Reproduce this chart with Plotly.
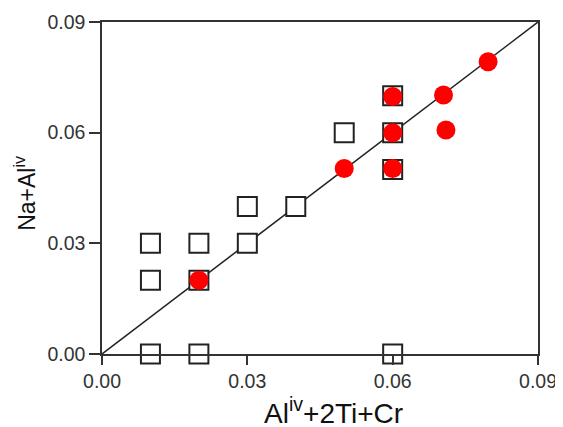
import plotly.graph_objects as go

# Open squares
sq_x = [0.01, 0.01, 0.02, 0.02, 0.03, 0.03, 0.04, 0.05, 0.06, 0.06, 0.06, 0.01, 0.02, 0.06]
sq_y = [0.03, 0.02, 0.03, 0.02, 0.04, 0.03, 0.04, 0.06, 0.07, 0.06, 0.05, 0.00, 0.00, 0.00]
# Red filled circles
rc_x = [0.02, 0.05, 0.06, 0.06, 0.06, 0.0705, 0.071, 0.0797]
rc_y = [0.02, 0.0503, 0.0698, 0.060, 0.0503, 0.0702, 0.0607, 0.0792]
# 1:1 line
line_x = [0.0, 0.09]
line_y = [0.0, 0.09]
ticks = [0.0, 0.03, 0.06, 0.09]
tick_text = ["0.00", "0.03", "0.06", "0.09"]
x_title = "Al<sup>iv</sup>+2Ti+Cr"
y_title = "Na+Al<sup>iv</sup>"

fig = go.Figure()
fig.add_trace(go.Scatter(x=line_x, y=line_y, mode="lines",
                         line=dict(color="#222222", width=1.5), showlegend=False,
                         cliponaxis=False))
fig.add_trace(go.Scatter(x=sq_x, y=sq_y, mode="markers",
                         marker=dict(symbol="square", size=19, color="white",
                                     line=dict(color="#222222", width=2)),
                         showlegend=False, cliponaxis=False))
fig.add_trace(go.Scatter(x=rc_x, y=rc_y, mode="markers",
                         marker=dict(symbol="circle", size=19, color="#ff0000",
                                     line=dict(width=0)),
                         showlegend=False, cliponaxis=False))

axis_common = dict(range=[0, 0.09], tickvals=ticks, ticktext=tick_text,
                   ticks="outside", tickwidth=1.5, tickcolor="#333333",
                   showline=True, linecolor="#333333", linewidth=1.5, mirror=True,
                   showgrid=False, zeroline=False, automargin=False,
                   tickfont=dict(family="Liberation Sans, Arial", size=19.5, color="#333333"))

# The page body has an 8px default margin, so the figure is 8px smaller
fig.update_layout(
    width=555, height=419,
    margin=dict(l=94, r=25, t=14, b=73),
    plot_bgcolor="white", paper_bgcolor="white",
    xaxis=dict(**axis_common, ticklen=9),
    yaxis=dict(**axis_common, ticklen=11),
    annotations=[
        dict(text=x_title, xref="paper", yref="paper", x=0.532, y=-0.172,
             xanchor="center", yanchor="middle", showarrow=False,
             font=dict(family="Liberation Sans, Arial", size=28, color="#111111")),
        dict(text=y_title, xref="paper", yref="paper", x=-0.177, y=0.485,
             xanchor="center", yanchor="middle", showarrow=False, textangle=-90,
             font=dict(family="Liberation Sans, Arial", size=23, color="#111111")),
    ],
)
fig.write_html("out.html")
